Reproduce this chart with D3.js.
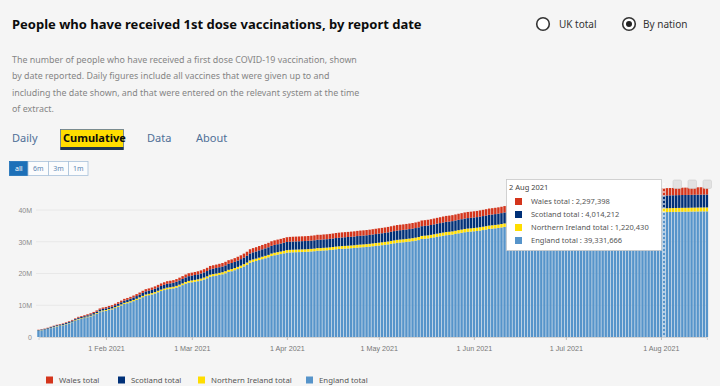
<!DOCTYPE html>
<html>
<head>
<meta charset="utf-8">
<script src="https://cdn.jsdelivr.net/npm/d3@7"></script>
<style>
  html, body { margin: 0; padding: 0; background: #f5f5f5; }
  svg { display: block; font-family: "Noto Sans", "Open Sans", sans-serif; }
</style>
</head>
<body>
<svg id="chart" width="720" height="386"></svg>
<script>
// cumulative first doses by report date, thousands, one value per day from 10 Jan 2021
var startDay = new Date(2021, 0, 10)
var endDay   = new Date(2021, 7, 17)   // exclusive

var england = [
  1974,2096,2273,2518,2799,3085,3345,3523,3703,4002,4318,4677,5100,5537,5724,5966,6237,6505,6871,7300,7832,8102,
  8248,8521,8716,9115,9526,9940,10409,10639,10936,11283,11659,12082,12542,12967,13170,13396,13701,14098,14475,14777,15052,15169,15321,15583,15947,16343,16762,17090,
  17240,17401,17583,17807,18118,18491,18992,19173,19349,19548,19752,20064,20491,20708,21029,21393,21780,22223,22723,23380,23692,23933,24238,24527,24797,25092,25502,25749,25940,26121,26333,
  26550,26631,26680,26713,26748,26782,26812,26867,26940,27025,27173,27174,27251,27304,27391,27497,27624,27711,27782,27842,27898,27966,28040,28156,28236,28295,28371,28460,28582,28698,
  28813,28921,29042,29175,29348,29511,29664,29753,29840,29947,30057,30190,30340,30525,30868,30951,31045,31194,31379,31556,31721,31903,32061,32143,32262,32448,32641,32809,32993,33123,33196,
  33296,33390,33533,33682,33853,34034,34129,34234,34352,34507,34690,34889,35038,35136,35263,35448,35673,35976,36262,36476,36599,36716,36919,37109,37285,37453,37552,37628,37760,37850,
  37954,38061,38176,38260,38320,38374,38436,38511,38588,38666,38715,38755,38805,38862,38925,38969,39016,39052,39074,39096,39127,39158,39187,39213,39232,39245,39262,39280,39299,39314,39328,
  39330,39332,39350,39371,39394,39418,39437,39458,39469,39483,39505,39524,39543,39562,39571,39578
]
var northernIreland = [
  64,68,74,82,90,99,107,113,119,128,138,150,163,176,183,191,200,209,220,234,250,259,
  265,275,280,295,305,320,335,345,355,365,380,395,410,425,430,440,450,465,475,485,495,500,505,515,530,545,560,570,
  575,580,585,595,605,615,630,635,640,645,650,660,675,680,690,700,710,720,730,745,750,755,760,765,770,775,785,790,795,800,805,
  810,812,813,814,815,816,817,819,822,826,832,832,836,838,841,845,850,853,856,859,862,865,868,872,875,878,881,885,890,895,
  900,904,908,912,918,924,930,933,936,940,944,948,952,958,968,971,974,978,983,988,993,998,1003,1006,1009,1014,1019,1024,1029,1033,1036,
  1040,1043,1047,1051,1056,1061,1064,1067,1071,1076,1082,1088,1092,1095,1099,1104,1110,1118,1126,1132,1136,1139,1144,1149,1154,1159,1162,1164,1168,1171,
  1173,1175,1177,1179,1181,1183,1185,1187,1189,1191,1193,1195,1197,1199,1200,1202,1203,1205,1206,1208,1209,1211,1212,1213,1214,1215,1216,1217,1218,1219,1219,
  1220,1220,1221,1222,1223,1224,1225,1226,1226,1227,1228,1229,1230,1231,1231,1232
]
var scotland = [
  163,175,190,205,220,235,250,262,270,290,310,330,350,370,385,400,415,430,450,470,490,510,
  520,545,565,600,640,680,720,745,775,810,850,890,935,975,995,1020,1055,1100,1145,1185,1220,1235,1260,1300,1350,1400,1450,1500,
  1520,1545,1570,1600,1635,1670,1710,1730,1755,1780,1810,1845,1890,1915,1950,1990,2030,2080,2130,2200,2235,2265,2300,2330,2365,2395,2440,2465,2490,2515,2540,
  2565,2575,2580,2585,2590,2595,2600,2605,2615,2625,2640,2640,2655,2660,2670,2680,2695,2705,2715,2725,2735,2745,2755,2765,2775,2785,2795,2805,2815,2830,
  2845,2855,2865,2880,2900,2920,2940,2950,2960,2975,2990,3005,3020,3040,3070,3080,3090,3105,3120,3140,3160,3180,3200,3210,3220,3235,3250,3265,3280,3295,3305,
  3315,3325,3340,3355,3370,3385,3395,3405,3420,3435,3455,3475,3490,3500,3515,3535,3560,3590,3620,3640,3650,3660,3680,3700,3720,3740,3750,3755,3765,3775,
  3790,3800,3810,3818,3825,3832,3840,3848,3856,3864,3870,3876,3883,3890,3897,3903,3909,3915,3920,3926,3932,3938,3944,3950,3956,3962,3968,3975,3982,3990,3998,
  4010,4014,4017,4021,4025,4029,4033,4037,4039,4042,4046,4049,4052,4055,4057,4058
]
var wales = [
  86,93,102,113,126,140,155,165,175,190,207,226,248,270,282,296,312,328,350,375,405,425,
  435,450,460,480,500,525,550,565,580,600,620,645,670,695,705,720,735,760,780,800,815,820,830,845,865,890,910,930,
  940,950,965,980,1000,1020,1045,1055,1065,1080,1095,1115,1140,1150,1170,1190,1215,1240,1270,1305,1320,1335,1355,1370,1385,1400,1425,1440,1455,1470,1485,
  1500,1505,1508,1510,1512,1515,1518,1522,1527,1535,1545,1545,1555,1560,1568,1577,1588,1595,1600,1605,1610,1616,1622,1630,1637,1642,1648,1655,1663,1672,
  1680,1686,1692,1700,1710,1720,1730,1735,1740,1748,1756,1764,1772,1782,1798,1803,1810,1820,1832,1844,1855,1866,1876,1880,1886,1896,1906,1916,1928,1936,1940,
  1945,1950,1957,1964,1972,1980,1985,1990,1996,2004,2012,2020,2027,2032,2038,2046,2056,2068,2080,2090,2095,2100,2110,2118,2126,2134,2138,2142,2148,2152,
  2157,2162,2167,2171,2175,2179,2183,2188,2193,2198,2202,2206,2211,2216,2221,2225,2229,2233,2237,2241,2246,2251,2256,2261,2266,2270,2274,2279,2284,2289,2293,
  2296,2297,2299,2301,2303,2305,2307,2309,2310,2312,2314,2316,2318,2320,2321,2322
]

var seriesKeys   = ["england", "ni", "scotland", "wales"]       // bottom to top
var seriesNames  = {wales: "Wales total", scotland: "Scotland total", ni: "Northern Ireland total", england: "England total"}
var seriesColors = {england: "#5694ca", ni: "#ffdd00", scotland: "#003078", wales: "#d4351c"}
var legendOrder  = ["wales", "scotland", "ni", "england"]
var legendX      = [46, 118, 198, 306]

var yTicks = [0, 10e6, 20e6, 30e6, 40e6]
var xTickDates = [new Date(2021,1,1), new Date(2021,2,1), new Date(2021,3,1), new Date(2021,4,1),
                  new Date(2021,5,1), new Date(2021,6,1), new Date(2021,7,1)]

var tipDate   = new Date(2021, 7, 2)
var tipValues = {wales: 2297398, scotland: 4014212, ni: 1220430, england: 39331666}

var tabs = ["Daily", "Cumulative", "Data", "About"]
var tabX = [12, 63, 147, 196]
var ranges = ["all", "6m", "3m", "1m"]

var days = d3.timeDay.range(startDay, endDay)
var rows = days.map((d, i) => ({
  date: d,
  england: england[i] * 1000,
  ni: northernIreland[i] * 1000,
  scotland: scotland[i] * 1000,
  wales: wales[i] * 1000
}))

var svg = d3.select("#chart")
svg.append("rect").attr("width", 720).attr("height", 386).attr("fill", "#f5f5f5")

function fit(sel, w) {
  var len = sel.node().getComputedTextLength()
  var fs = parseFloat(sel.attr("font-size"))
  sel.attr("font-size", (fs * w / len).toFixed(2))
  return fs * w / len
}

/* heading + description */
var title = svg.append("text")
  .attr("x", 12).attr("y", 28.5)
  .attr("font-size", 14).attr("font-weight", 700).attr("fill", "#0b0c0c")
  .text("People who have received 1st dose vaccinations, by report date")
fit(title, 410)

var desc = [
  "The number of people who have received a first dose COVID-19 vaccination, shown",
  "by date reported. Daily figures include all vaccines that were given up to and",
  "including the date shown, and that were entered on the relevant system at the time",
  "of extract."
]
var descTexts = svg.selectAll("text.desc").data(desc).join("text")
  .attr("class", "desc")
  .attr("x", 12).attr("y", (d, i) => 63 + i * 16.4)
  .attr("font-size", 8.5).attr("fill", "#858585")
  .text(d => d)
var fsDesc = fit(d3.select(descTexts.nodes()[0]), 346)
descTexts.attr("font-size", fsDesc.toFixed(2))

/* radio buttons */
var radio = svg.append("g")
radio.append("circle").attr("cx", 543).attr("cy", 24).attr("r", 6.3)
  .attr("fill", "#fff").attr("stroke", "#333").attr("stroke-width", 1.6)
radio.append("text").attr("x", 559).attr("y", 27.5).attr("font-size", 10).attr("fill", "#333").text("UK total")
radio.append("circle").attr("cx", 629).attr("cy", 24).attr("r", 6.3)
  .attr("fill", "#fff").attr("stroke", "#333").attr("stroke-width", 1.6)
radio.append("circle").attr("cx", 629).attr("cy", 24).attr("r", 3).attr("fill", "#222")
radio.append("text").attr("x", 643).attr("y", 27.5).attr("font-size", 10).attr("fill", "#333").text("By nation")

/* tabs */
svg.append("rect").attr("x", 60.5).attr("y", 129.5).attr("width", 63).attr("height", 20)
  .attr("fill", "#ffdd00").attr("stroke", "#5b7494").attr("stroke-width", 0.8)
svg.append("rect").attr("x", 60.5).attr("y", 147).attr("width", 63).attr("height", 3).attr("fill", "#1e3450")
svg.selectAll("text.tab").data(tabs).join("text")
  .attr("class", "tab")
  .attr("x", (d, i) => tabX[i]).attr("y", 141.5)
  .attr("font-size", 11)
  .attr("font-weight", d => d == "Cumulative" ? 700 : 400)
  .attr("fill", d => d == "Cumulative" ? "#0b0c0c" : "#4f6f97")
  .text(d => d)

/* range buttons */
var rb = svg.append("g").attr("transform", "translate(9,161)")
var bw = [18.5, 20.5, 20, 19.5], bx = [0]
for (var i = 1; i < bw.length; i++) bx.push(bx[i-1] + bw[i-1])
rb.selectAll("rect").data(ranges).join("rect")
  .attr("x", (d, i) => bx[i] + 0.5).attr("y", 0.5)
  .attr("width", (d, i) => bw[i]).attr("height", 14)
  .attr("fill", (d, i) => i == 0 ? "#1d70b8" : "#fbfcfd")
  .attr("stroke", (d, i) => i == 0 ? "#1d70b8" : "#a9c1da").attr("stroke-width", 0.8)
rb.selectAll("text").data(ranges).join("text")
  .attr("x", (d, i) => bx[i] + bw[i] / 2 + 0.5).attr("y", 10.3)
  .attr("text-anchor", "middle").attr("font-size", 7)
  .attr("fill", (d, i) => i == 0 ? "#fff" : "#5d86b3")
  .text(d => d)

/* chart */
var x = d3.scaleTime().domain([startDay, new Date(2021, 7, 16)]).range([38.5, 38.5 + 218 * 3.066])
var y = d3.scaleLinear().domain([0, 40e6]).range([337, 210])
var barW = 2.45

var grid = svg.append("g")
grid.selectAll("line").data(yTicks.slice(1)).join("line")
  .attr("x1", 36).attr("x2", 708)
  .attr("y1", d => y(d)).attr("y2", d => y(d))
  .attr("stroke", "#e4e4e4").attr("stroke-width", 0.8)

var yAxis = svg.append("g").attr("transform", "translate(32,0)")
  .call(d3.axisLeft(y).tickValues(yTicks).tickSize(0).tickPadding(0)
    .tickFormat(d => d == 0 ? "0" : (d / 1e6) + "M"))
yAxis.select(".domain").remove()
yAxis.selectAll("text").attr("font-size", 7).attr("fill", "#8a8a8a").attr("font-family", null)

var stack = d3.stack().keys(seriesKeys)(rows)
svg.append("g").selectAll("g").data(stack).join("g")
  .attr("fill", d => seriesColors[d.key])
  .selectAll("rect").data(d => d).join("rect")
  .attr("x", d => x(d.data.date) - barW / 2)
  .attr("width", barW)
  .attr("y", d => y(d[1]))
  .attr("height", d => Math.max(0, y(d[0]) - y(d[1])))

var xAxis = svg.append("g").attr("transform", "translate(0,337)")
  .call(d3.axisBottom(x).tickValues(xTickDates).tickSize(3).tickPadding(6)
    .tickFormat(d3.timeFormat("%-d %b %Y")))
xAxis.select(".domain").attr("stroke", "#cccccc").attr("stroke-width", 0.8)
xAxis.selectAll(".tick line").attr("stroke", "#bbbbbb")
xAxis.selectAll("text").attr("font-size", 7.2).attr("fill", "#777").attr("font-family", null)

/* crosshair + tooltip */
var cx = x(tipDate)
svg.append("line").attr("x1", cx).attr("x2", cx).attr("y1", 183).attr("y2", 337)
  .attr("stroke", "#ffffff").attr("stroke-width", 1.1).attr("stroke-dasharray", "2,2")
svg.append("circle").attr("cx", cx - 6).attr("cy", 182.5).attr("r", 1.6).attr("fill", "#555")

var icons = [673, 688, 703]
svg.selectAll("rect.icon").data(icons).join("rect")
  .attr("class", "icon")
  .attr("x", d => d).attr("y", 180).attr("width", 8.5).attr("height", 8.5).attr("rx", 1.5)
  .attr("fill", "#e2e2e2").attr("stroke", "#cfcfcf").attr("stroke-width", 0.6)

var tip = svg.append("g").attr("transform", "translate(506,179)")
tip.append("rect").attr("x", 0.5).attr("y", 0.5).attr("width", 155).attr("height", 71)
  .attr("fill", "#ffffff").attr("stroke", "#c8c8c8").attr("stroke-width", 0.8)
tip.append("text").attr("x", 3).attr("y", 11).attr("font-size", 7.5).attr("fill", "#444")
  .text(d3.timeFormat("%-d %b %Y")(tipDate))
var tipRows = tip.selectAll("g.row").data(legendOrder).join("g")
  .attr("class", "row")
  .attr("transform", (d, i) => "translate(9," + (22.5 + i * 13) + ")")
tipRows.append("rect").attr("x", 0).attr("y", -3.5).attr("width", 7).attr("height", 7)
  .attr("fill", d => seriesColors[d])
tipRows.append("text").attr("x", 16).attr("y", 2.8).attr("font-size", 7.5).attr("fill", "#555")
  .text(d => seriesNames[d] + " : " + d3.format(",")(tipValues[d]))

/* legend */
var legend = svg.selectAll("g.legend").data(legendOrder).join("g")
  .attr("class", "legend")
  .attr("transform", (d, i) => "translate(" + legendX[i] + ",380)")
legend.append("rect").attr("x", 0).attr("y", -3.5).attr("width", 7).attr("height", 7)
  .attr("fill", d => seriesColors[d])
legend.append("text").attr("x", 13).attr("y", 2.6).attr("font-size", 7.8).attr("fill", "#555")
  .text(d => seriesNames[d])
</script>
</body>
</html>
